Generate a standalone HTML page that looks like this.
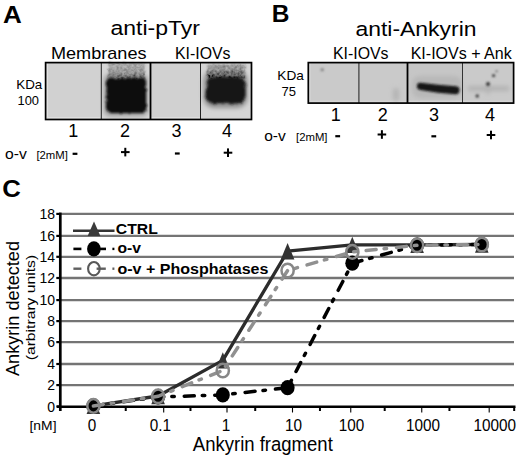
<!DOCTYPE html>
<html><head><meta charset="utf-8"><style>
html,body{margin:0;padding:0;background:#fff;}
svg{display:block;font-family:"Liberation Sans", sans-serif;}
</style></head><body>
<svg width="520" height="459" viewBox="0 0 520 459">
<defs>
<filter id="bl1" x="-20%" y="-20%" width="140%" height="140%"><feGaussianBlur stdDeviation="1.1"/></filter>
<filter id="bl3" x="-20%" y="-20%" width="140%" height="140%"><feGaussianBlur stdDeviation="2.2"/></filter>
<filter id="bl2" x="-20%" y="-20%" width="140%" height="140%"><feGaussianBlur stdDeviation="2"/></filter>
<filter id="rough" x="-20%" y="-20%" width="140%" height="140%"><feTurbulence type="fractalNoise" baseFrequency="0.35" numOctaves="2" seed="3" result="n"/><feDisplacementMap in="SourceGraphic" in2="n" scale="4" xChannelSelector="R" yChannelSelector="G" result="d"/><feGaussianBlur in="d" stdDeviation="0.9"/></filter>
<filter id="smear" x="-20%" y="-20%" width="140%" height="140%"><feTurbulence type="fractalNoise" baseFrequency="0.45" numOctaves="2" seed="7" result="n"/><feDisplacementMap in="SourceGraphic" in2="n" scale="5" xChannelSelector="R" yChannelSelector="G" result="d"/><feGaussianBlur in="d" stdDeviation="1.1" result="b"/><feTurbulence type="fractalNoise" baseFrequency="0.35" numOctaves="2" seed="11" result="n2"/><feColorMatrix in="n2" type="matrix" values="0.33 0.33 0.33 0 0  0.33 0.33 0.33 0 0  0.33 0.33 0.33 0 0  0 0 0 0 1" result="g"/><feComposite in="b" in2="g" operator="arithmetic" k1="0" k2="1" k3="0.7" k4="-0.35" result="c"/><feComposite in="c" in2="b" operator="in"/></filter>
<linearGradient id="gsm" x1="0" y1="0" x2="0" y2="1"><stop offset="0" stop-color="#b0b0b0"/><stop offset="0.55" stop-color="#999"/><stop offset="1" stop-color="#606060"/></linearGradient>
<linearGradient id="gsm2" x1="0" y1="0" x2="0" y2="1"><stop offset="0" stop-color="#acacac"/><stop offset="0.5" stop-color="#7c7c7c"/><stop offset="1" stop-color="#404040"/></linearGradient>
</defs>
<rect width="520" height="459" fill="#fff"/>
<text x="3.0" y="22.9" font-size="24.5" text-anchor="start" font-weight="bold" fill="#000" textLength="18.8" lengthAdjust="spacingAndGlyphs">A</text>
<text x="110.5" y="34.9" font-size="20.5" text-anchor="start" fill="#000" textLength="89.5" lengthAdjust="spacingAndGlyphs">anti-pTyr</text>
<text x="51" y="58.5" font-size="17" text-anchor="start" fill="#000" textLength="95.5" lengthAdjust="spacingAndGlyphs">Membranes</text>
<text x="175" y="58.5" font-size="16" text-anchor="start" fill="#000" textLength="55.5" lengthAdjust="spacingAndGlyphs">KI-IOVs</text>
<text x="16.3" y="89.3" font-size="13" text-anchor="start" fill="#000" textLength="26" lengthAdjust="spacingAndGlyphs">KDa</text>
<text x="17.5" y="104.6" font-size="13.5" text-anchor="start" fill="#000" textLength="21.5" lengthAdjust="spacingAndGlyphs">100</text>
<g>
<rect x="45.5" y="62.5" width="206" height="57" fill="#d1d1d1"/>
<rect x="46.5" y="63" width="1.6" height="56" fill="#e2e2e2"/>
<rect x="46" y="117" width="54" height="1.6" fill="#dedede"/>
<rect x="151" y="117" width="49" height="1.6" fill="#dedede"/>
<rect x="101" y="62.5" width="49" height="57" fill="#d6d6d6"/>
<rect x="200" y="62.5" width="51.5" height="57" fill="#d5d5d5"/>
<g filter="url(#bl3)">
<rect x="203.5" y="70" width="44" height="38" rx="10" fill="#8e8e8e"/>
<rect x="104" y="74" width="44" height="42" rx="6" fill="#9a9a9a"/>
</g>
<g filter="url(#smear)">
<rect x="108.5" y="63" width="36" height="17" fill="url(#gsm)"/>
<rect x="207.5" y="64.5" width="37" height="15" fill="url(#gsm2)"/>
</g>
<g filter="url(#rough)">
<path d="M107,82 Q106,77.5 112,78 L140,78 Q146,77.5 146,83 L146,108 Q146,113.5 140,113 L112,113 Q106,113.5 106,107 Z" fill="#101010"/>
<path d="M206.5,85 Q206,77 215,77 L237,77 Q245.5,77 245.5,85 L245.5,96 Q245.5,103.5 237,103.5 L215,103.5 Q205.5,103.5 205.5,95 Z" fill="#121212"/>
</g>
<line x1="101.3" y1="62.5" x2="101.3" y2="119.5" stroke="#222" stroke-width="1"/>
<line x1="150.5" y1="62.5" x2="150.5" y2="119.5" stroke="#000" stroke-width="1.8"/>
<line x1="200.5" y1="62.5" x2="200.5" y2="119.5" stroke="#222" stroke-width="1"/>
<rect x="45.6" y="62.6" width="205.9" height="56.9" fill="none" stroke="#000" stroke-width="1.7"/>
</g>
<text x="73.2" y="137.4" font-size="18" text-anchor="middle" fill="#000">1</text>
<text x="125.1" y="137.4" font-size="18" text-anchor="middle" fill="#000">2</text>
<text x="176.4" y="137.4" font-size="18" text-anchor="middle" fill="#000">3</text>
<text x="226.9" y="137.4" font-size="18" text-anchor="middle" fill="#000">4</text>
<text x="5" y="158.6" font-size="15.5" text-anchor="start" fill="#000" textLength="21.8" lengthAdjust="spacingAndGlyphs">o-v</text>
<text x="36.4" y="158.9" font-size="11.5" text-anchor="start" fill="#000" textLength="31.5" lengthAdjust="spacingAndGlyphs">[2mM]</text>
<rect x="72.6" y="152.70000000000002" width="4.8" height="2.2" fill="#000"/>
<rect x="121.0" y="151.1" width="8.6" height="2" fill="#000"/><rect x="124.3" y="147.79999999999998" width="2" height="8.6" fill="#000"/>
<rect x="174.9" y="152.4" width="4.8" height="2.2" fill="#000"/>
<rect x="223.7" y="151.7" width="8.6" height="2" fill="#000"/><rect x="227" y="148.39999999999998" width="2" height="8.6" fill="#000"/>
<text x="271.8" y="21.7" font-size="24.5" text-anchor="start" font-weight="bold" fill="#000">B</text>
<text x="355.5" y="35.9" font-size="20.5" text-anchor="start" fill="#000" textLength="121" lengthAdjust="spacingAndGlyphs">anti-Ankyrin</text>
<text x="333" y="58.8" font-size="16" text-anchor="start" fill="#000" textLength="55.5" lengthAdjust="spacingAndGlyphs">KI-IOVs</text>
<text x="410.7" y="59" font-size="16" text-anchor="start" fill="#000" textLength="101" lengthAdjust="spacingAndGlyphs">KI-IOVs + Ank</text>
<text x="277.3" y="80.2" font-size="13" text-anchor="start" fill="#000" textLength="26.5" lengthAdjust="spacingAndGlyphs">KDa</text>
<text x="281.5" y="95.6" font-size="13.5" text-anchor="start" fill="#000" textLength="14.5" lengthAdjust="spacingAndGlyphs">75</text>
<g>
<rect x="308" y="62.5" width="205.5" height="40.5" fill="#cacaca"/>
<rect x="408" y="62.5" width="55" height="40.5" fill="#c6c6c6"/>
<rect x="309" y="63" width="1.5" height="40" fill="#d8d8d8"/>
<rect x="309" y="100.6" width="204" height="1.5" fill="#d6d6d6"/>
<g filter="url(#bl3)">
<rect x="412" y="76" width="50" height="22" rx="8" fill="#b8b8b8"/>
<rect x="468" y="86" width="41" height="5" fill="#b2b2b2"/>
<rect x="487" y="84" width="2" height="11" fill="#b0b0b0"/>
<rect x="393" y="88" width="6" height="13" rx="3" fill="#b4b4b4"/>
</g>
<g filter="url(#bl1)">
<path d="M420.5,82.8 L438,84.8 L456,86.2 Q459.8,87 459.5,90 Q459.2,94.3 455.5,94.2 L438,92.8 L420.5,90 Q416.8,89.3 416.9,86 Q417.3,82.5 420.5,82.8 Z" fill="#131313"/>
<circle cx="488" cy="84" r="1.9" fill="#303030"/>
<circle cx="493.6" cy="75.6" r="1.7" fill="#484848"/>
<circle cx="477.2" cy="96" r="1.7" fill="#404040"/>
<circle cx="496.6" cy="71.3" r="1.3" fill="#888"/>
<circle cx="322.2" cy="69.8" r="1.8" fill="#8a8a8a"/>
</g>
<line x1="358.9" y1="62.5" x2="358.9" y2="103" stroke="#3a3a3a" stroke-width="1.2"/>
<line x1="407.5" y1="62.5" x2="407.5" y2="103" stroke="#000" stroke-width="1.8"/>
<line x1="462.5" y1="62.5" x2="462.5" y2="103" stroke="#333" stroke-width="1"/>
<rect x="308.3" y="62.6" width="205.3" height="40.5" fill="none" stroke="#000" stroke-width="1.7"/>
</g>
<text x="335.8" y="121.3" font-size="18" text-anchor="middle" fill="#000">1</text>
<text x="382.7" y="121.3" font-size="18" text-anchor="middle" fill="#000">2</text>
<text x="434" y="121.3" font-size="18" text-anchor="middle" fill="#000">3</text>
<text x="490" y="121.3" font-size="18" text-anchor="middle" fill="#000">4</text>
<text x="264.2" y="140.7" font-size="15.5" text-anchor="start" fill="#000" textLength="21.6" lengthAdjust="spacingAndGlyphs">o-v</text>
<text x="296" y="140.5" font-size="11.5" text-anchor="start" fill="#000" textLength="31.5" lengthAdjust="spacingAndGlyphs">[2mM]</text>
<rect x="335.3" y="135.1" width="4.8" height="2.2" fill="#000"/>
<rect x="377.59999999999997" y="133.5" width="8.6" height="2" fill="#000"/><rect x="380.9" y="130.2" width="2" height="8.6" fill="#000"/>
<rect x="431.40000000000003" y="135.20000000000002" width="4.8" height="2.2" fill="#000"/>
<rect x="486.7" y="134" width="8.6" height="2" fill="#000"/><rect x="490" y="130.7" width="2" height="8.6" fill="#000"/>
<text x="2.3" y="197.3" font-size="24.5" text-anchor="start" font-weight="bold" fill="#000" textLength="18.6" lengthAdjust="spacingAndGlyphs">C</text>
<line x1="61" y1="385.1" x2="514" y2="385.1" stroke="#747474" stroke-width="2.3"/>
<line x1="61" y1="364.0" x2="514" y2="364.0" stroke="#747474" stroke-width="2.3"/>
<line x1="61" y1="342.1" x2="514" y2="342.1" stroke="#747474" stroke-width="2.3"/>
<line x1="61" y1="321.1" x2="514" y2="321.1" stroke="#747474" stroke-width="2.3"/>
<line x1="61" y1="300.1" x2="514" y2="300.1" stroke="#747474" stroke-width="2.3"/>
<line x1="61" y1="278.0" x2="514" y2="278.0" stroke="#747474" stroke-width="2.3"/>
<line x1="61" y1="256.8" x2="514" y2="256.8" stroke="#747474" stroke-width="2.3"/>
<line x1="61" y1="235.9" x2="514" y2="235.9" stroke="#747474" stroke-width="2.3"/>
<line x1="61" y1="213.9" x2="514" y2="213.9" stroke="#747474" stroke-width="2.3"/>
<line x1="56.3" y1="406.5" x2="61" y2="406.5" stroke="#000" stroke-width="2.2"/>
<text x="55.0" y="411.5" font-size="14" text-anchor="end" fill="#000">0</text>
<line x1="56.3" y1="385.1" x2="61" y2="385.1" stroke="#000" stroke-width="2.2"/>
<text x="55.0" y="390.1" font-size="14" text-anchor="end" fill="#000">2</text>
<line x1="56.3" y1="364.0" x2="61" y2="364.0" stroke="#000" stroke-width="2.2"/>
<text x="55.0" y="369.0" font-size="14" text-anchor="end" fill="#000">4</text>
<line x1="56.3" y1="342.1" x2="61" y2="342.1" stroke="#000" stroke-width="2.2"/>
<text x="55.0" y="347.1" font-size="14" text-anchor="end" fill="#000">6</text>
<line x1="56.3" y1="321.1" x2="61" y2="321.1" stroke="#000" stroke-width="2.2"/>
<text x="55.0" y="326.1" font-size="14" text-anchor="end" fill="#000">8</text>
<line x1="56.3" y1="300.1" x2="61" y2="300.1" stroke="#000" stroke-width="2.2"/>
<text x="55.0" y="305.1" font-size="14" text-anchor="end" fill="#000">10</text>
<line x1="56.3" y1="278.0" x2="61" y2="278.0" stroke="#000" stroke-width="2.2"/>
<text x="55.0" y="283.0" font-size="14" text-anchor="end" fill="#000">12</text>
<line x1="56.3" y1="256.8" x2="61" y2="256.8" stroke="#000" stroke-width="2.2"/>
<text x="55.0" y="261.8" font-size="14" text-anchor="end" fill="#000">14</text>
<line x1="56.3" y1="235.9" x2="61" y2="235.9" stroke="#000" stroke-width="2.2"/>
<text x="55.0" y="240.9" font-size="14" text-anchor="end" fill="#000">16</text>
<line x1="56.3" y1="213.9" x2="61" y2="213.9" stroke="#000" stroke-width="2.2"/>
<text x="55.0" y="218.9" font-size="14" text-anchor="end" fill="#000">18</text>
<line x1="60.3" y1="212.6" x2="60.3" y2="411" stroke="#000" stroke-width="2.7"/>
<line x1="57" y1="406.8" x2="515.5" y2="406.8" stroke="#000" stroke-width="2.6"/>
<line x1="125.74" y1="407" x2="125.74" y2="411" stroke="#000" stroke-width="2"/>
<line x1="190.48" y1="407" x2="190.48" y2="411" stroke="#000" stroke-width="2"/>
<line x1="255.22" y1="407" x2="255.22" y2="411" stroke="#000" stroke-width="2"/>
<line x1="319.96" y1="407" x2="319.96" y2="411" stroke="#000" stroke-width="2"/>
<line x1="384.70" y1="407" x2="384.70" y2="411" stroke="#000" stroke-width="2"/>
<line x1="449.44" y1="407" x2="449.44" y2="411" stroke="#000" stroke-width="2"/>
<line x1="514.18" y1="407" x2="514.18" y2="411" stroke="#000" stroke-width="2"/>
<line x1="92" y1="407" x2="92" y2="412.5" stroke="#000" stroke-width="1.1"/>
<line x1="163.7" y1="407" x2="163.7" y2="412.5" stroke="#000" stroke-width="1.1"/>
<line x1="227" y1="407" x2="227" y2="412.5" stroke="#000" stroke-width="1.1"/>
<line x1="292.5" y1="407" x2="292.5" y2="412.5" stroke="#000" stroke-width="1.1"/>
<line x1="350.75" y1="407" x2="350.75" y2="412.5" stroke="#000" stroke-width="1.1"/>
<line x1="421.75" y1="407" x2="421.75" y2="412.5" stroke="#000" stroke-width="1.1"/>
<line x1="489.2" y1="407" x2="489.2" y2="412.5" stroke="#000" stroke-width="1.1"/>
<g transform="translate(92,430.6) scale(1,1.07)"><text x="0" y="0" font-size="15.3" text-anchor="middle" fill="#000">0</text>
</g>
<g transform="translate(160.3,430.6) scale(1,1.07)"><text x="0" y="0" font-size="15.3" text-anchor="middle" fill="#000">0.1</text>
</g>
<g transform="translate(226,430.6) scale(1,1.07)"><text x="0" y="0" font-size="15.3" text-anchor="middle" fill="#000">1</text>
</g>
<g transform="translate(293.5,430.6) scale(1,1.07)"><text x="0" y="0" font-size="15.3" text-anchor="middle" fill="#000">10</text>
</g>
<g transform="translate(351.6,430.6) scale(1,1.07)"><text x="0" y="0" font-size="15.3" text-anchor="middle" fill="#000">100</text>
</g>
<g transform="translate(423,430.6) scale(1,1.07)"><text x="0" y="0" font-size="15.3" text-anchor="middle" fill="#000">1000</text>
</g>
<g transform="translate(494.8,430.6) scale(1,1.07)"><text x="0" y="0" font-size="15.3" text-anchor="middle" fill="#000">10000</text>
</g>
<text x="29.5" y="430.2" font-size="13" text-anchor="start" fill="#000" textLength="27" lengthAdjust="spacingAndGlyphs">[nM]</text>
<text x="192.8" y="450.9" font-size="19.3" text-anchor="start" fill="#000" textLength="140" lengthAdjust="spacingAndGlyphs">Ankyrin fragment</text>
<text transform="translate(19.1,376) rotate(-90)" x="0" y="0" font-size="18" textLength="135" lengthAdjust="spacingAndGlyphs">Ankyrin detected</text>
<text transform="translate(34.8,360.3) rotate(-90)" x="0" y="0" font-size="13.5" textLength="105.5" lengthAdjust="spacingAndGlyphs">(arbitrary units)</text>
<polyline points="93.4,405.9 158.1,396.0 222.8,360.4 287.6,251.2 352.3,244.8 417.1,244.8 481.8,244.5" fill="none" stroke="#2c2c2c" stroke-width="3.3" stroke-linejoin="round"/>
<path d="M93.4,397.8 L100.2,414.1 L86.6,414.1 Z" fill="#333"/>
<path d="M158.1,387.9 L164.9,404.2 L151.3,404.2 Z" fill="#333"/>
<path d="M222.8,352.3 L229.7,368.6 L216.0,368.6 Z" fill="#333"/>
<path d="M287.6,243.1 L294.4,259.4 L280.8,259.4 Z" fill="#333"/>
<path d="M352.3,236.7 L359.1,253.0 L345.5,253.0 Z" fill="#333"/>
<path d="M417.1,236.7 L423.9,253.0 L410.3,253.0 Z" fill="#333"/>
<path d="M481.8,236.4 L488.6,252.7 L475.0,252.7 Z" fill="#333"/>
<polyline points="93.4,405.9 158.1,397.0 222.8,394.9 287.6,387.7 352.3,263.2 417.1,245.2 481.8,244.5" fill="none" stroke="#000" stroke-width="3.5" stroke-dasharray="10 8 2.5 10" stroke-linecap="round"/>
<ellipse cx="93.4" cy="405.9" rx="7" ry="7.6" fill="#000"/>
<ellipse cx="158.1" cy="397.0" rx="7" ry="7.6" fill="#000"/>
<ellipse cx="222.8" cy="394.9" rx="7" ry="7.6" fill="#000"/>
<ellipse cx="287.6" cy="387.7" rx="7" ry="7.6" fill="#000"/>
<ellipse cx="352.3" cy="263.2" rx="7" ry="7.6" fill="#000"/>
<ellipse cx="417.1" cy="245.2" rx="7" ry="7.6" fill="#000"/>
<ellipse cx="481.8" cy="244.5" rx="7" ry="7.6" fill="#000"/>
<polyline points="93.4,405.9 158.1,396.3 222.8,370.5 287.6,270.5 352.3,251.9 417.1,245.3 481.8,244.5" fill="none" stroke="#909090" stroke-width="3.5" stroke-dasharray="10 8 2.5 10" stroke-linecap="round"/>
<ellipse cx="93.4" cy="405.9" rx="6.1" ry="6.8" fill="none" stroke="#878787" stroke-width="2.5"/>
<ellipse cx="158.1" cy="396.3" rx="6.1" ry="6.8" fill="none" stroke="#878787" stroke-width="2.5"/>
<ellipse cx="222.8" cy="370.5" rx="6.1" ry="6.8" fill="none" stroke="#878787" stroke-width="2.5"/>
<ellipse cx="287.6" cy="270.5" rx="6.1" ry="6.8" fill="none" stroke="#878787" stroke-width="2.5"/>
<ellipse cx="352.3" cy="251.9" rx="6.1" ry="6.8" fill="none" stroke="#878787" stroke-width="2.5"/>
<ellipse cx="417.1" cy="245.3" rx="6.1" ry="6.8" fill="none" stroke="#878787" stroke-width="2.5"/>
<ellipse cx="481.8" cy="244.5" rx="6.1" ry="6.8" fill="none" stroke="#878787" stroke-width="2.5"/>
<line x1="73" y1="230.8" x2="114.5" y2="230.8" stroke="#333" stroke-width="2.4"/>
<path d="M94,221.5 L100.4,235.9 L87.6,235.9 Z" fill="#3a3a3a"/>
<text x="115.8" y="233.6" font-size="14.5" text-anchor="start" font-weight="bold" fill="#000" textLength="42" lengthAdjust="spacingAndGlyphs">CTRL</text>
<line x1="73.4" y1="248.9" x2="81.4" y2="248.9" stroke="#000" stroke-width="2.6"/>
<line x1="100" y1="248.9" x2="106" y2="248.9" stroke="#000" stroke-width="2.6"/>
<rect x="112.4" y="247.7" width="2" height="2.4" fill="#000"/>
<ellipse cx="93.9" cy="248.9" rx="6.8" ry="7.6" fill="#000"/>
<text x="117.4" y="253.2" font-size="14" text-anchor="start" font-weight="bold" fill="#000" textLength="23.5" lengthAdjust="spacingAndGlyphs">o-v</text>
<line x1="73.4" y1="268.7" x2="81.4" y2="268.7" stroke="#606060" stroke-width="2.4"/>
<line x1="96.6" y1="268.7" x2="105.8" y2="268.7" stroke="#606060" stroke-width="2.4"/>
<rect x="112.4" y="267.5" width="2" height="2.4" fill="#606060"/>
<ellipse cx="93.9" cy="268.7" rx="5.8" ry="6.7" fill="none" stroke="#585858" stroke-width="2.1"/>
<text x="117.4" y="273.7" font-size="14.5" text-anchor="start" font-weight="bold" fill="#000" textLength="151" lengthAdjust="spacingAndGlyphs">o-v + Phosphatases</text>
</svg>
</body></html>
